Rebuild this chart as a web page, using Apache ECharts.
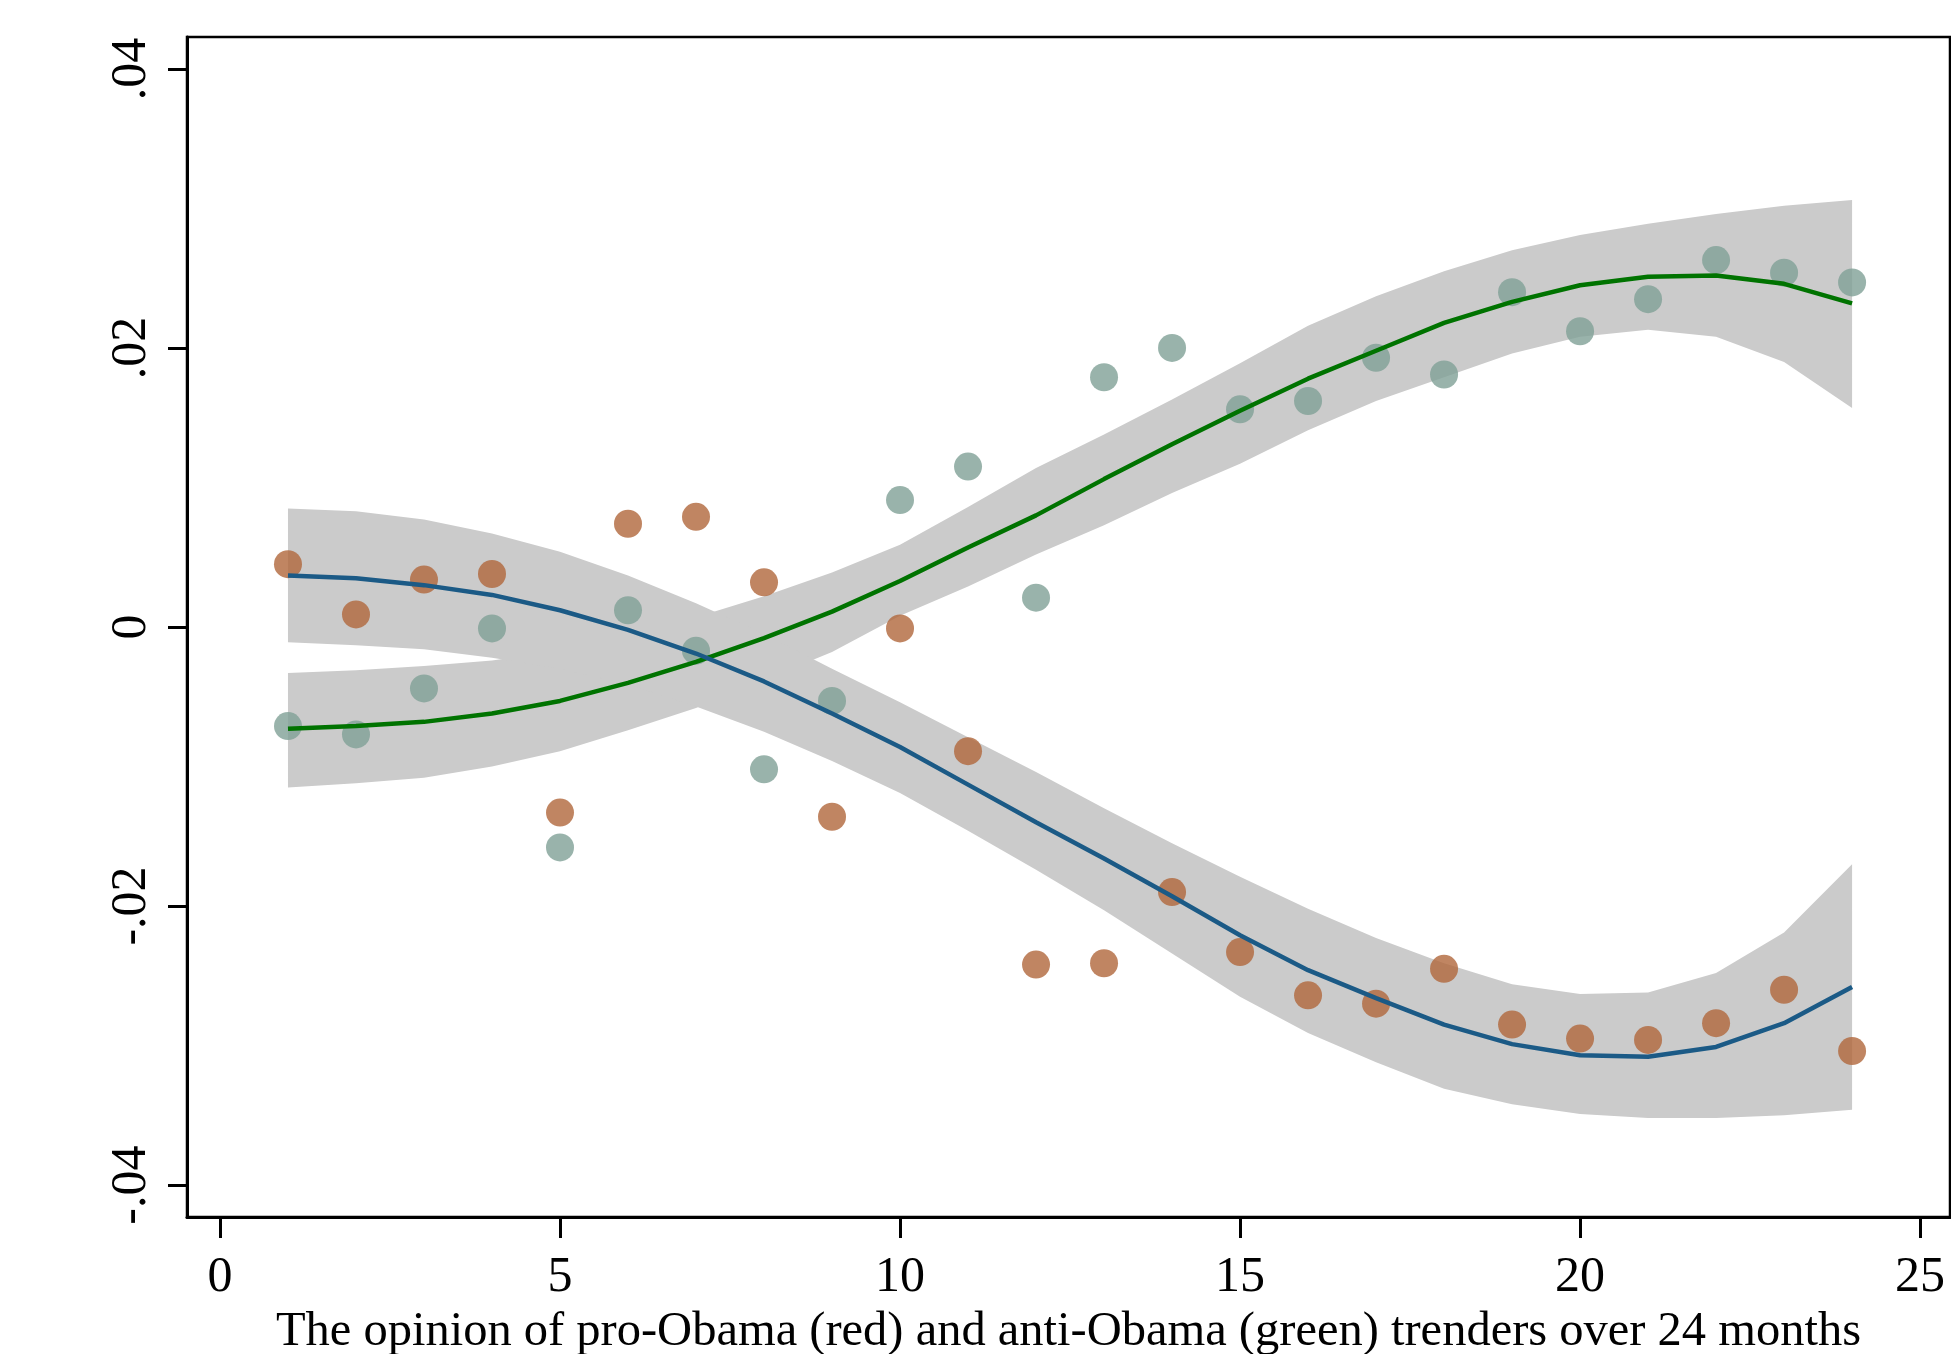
<!DOCTYPE html>
<html>
<head>
<meta charset="utf-8">
<script src="https://cdn.jsdelivr.net/npm/echarts@6/dist/echarts.min.js"></script>
<style>
html,body{margin:0;padding:0;background:#fff;}
#chart{width:1951px;height:1354px;}
</style>
</head>
<body>
<div id="chart"></div>
<script>
// Months 1..24
const months = [1,2,3,4,5,6,7,8,9,10,11,12,13,14,15,16,17,18,19,20,21,22,23,24];

// Pro-Obama trenders (red/orange points)
const proPoints = [0.0045, 0.0009, 0.0034, 0.0038, -0.0133, 0.0074, 0.0079, 0.0032, -0.0136, -0.0001, -0.0089, -0.0242,
                   -0.0241, -0.0190, -0.0233, -0.0264, -0.0270, -0.0245, -0.0285, -0.0295, -0.0296, -0.0284, -0.0260, -0.0304];
// Anti-Obama trenders (green points)
const antiPoints = [-0.0071, -0.0077, -0.0044, -0.0001, -0.0158, 0.0012, -0.0017, -0.0102, -0.0053, 0.0091, 0.0115, 0.0021,
                    0.0179, 0.0200, 0.0156, 0.0162, 0.0193, 0.0181, 0.0240, 0.0212, 0.0235, 0.0263, 0.0254, 0.0247];

// Fitted line and confidence band for pro-Obama
const proFit = [0.0037, 0.0035, 0.0030, 0.0023, 0.0012, -0.0002, -0.0019, -0.0039, -0.0062, -0.0086, -0.0113, -0.0140,
                -0.0166, -0.0193, -0.0221, -0.0246, -0.0266, -0.0285, -0.0299, -0.0307, -0.0308, -0.0301, -0.0284, -0.0258];
const proUpper = [0.0085, 0.0083, 0.0077, 0.0067, 0.0054, 0.0037, 0.0017, -0.0005, -0.0030, -0.0054, -0.0079, -0.0104,
                  -0.0130, -0.0155, -0.0179, -0.0202, -0.0223, -0.0241, -0.0256, -0.0263, -0.0262, -0.0248, -0.0219, -0.0170];
const proLower = [-0.0011, -0.0013, -0.0016, -0.0022, -0.0030, -0.0041, -0.0057, -0.0075, -0.0096, -0.0119, -0.0146, -0.0174,
                  -0.0203, -0.0234, -0.0265, -0.0291, -0.0312, -0.0331, -0.0342, -0.0349, -0.0352, -0.0352, -0.0350, -0.0346];

// Fitted line and confidence band for anti-Obama
const antiFit = [-0.0073, -0.0071, -0.0068, -0.0062, -0.0053, -0.0040, -0.0025, -0.0008, 0.0011, 0.0033, 0.0057, 0.0080,
                 0.0106, 0.0131, 0.0155, 0.0178, 0.0198, 0.0218, 0.0233, 0.0245, 0.0251, 0.0252, 0.0246, 0.0232];
const antiUpper = [-0.0033, -0.0031, -0.0028, -0.0024, -0.0017, -0.0007, 0.0007, 0.0022, 0.0039, 0.0059, 0.0086, 0.0114,
                   0.0138, 0.0163, 0.0189, 0.0216, 0.0237, 0.0255, 0.0270, 0.0281, 0.0289, 0.0296, 0.0302, 0.0306];
const antiLower = [-0.0115, -0.0112, -0.0108, -0.0100, -0.0089, -0.0074, -0.0058, -0.0038, -0.0018, 0.0008, 0.0029, 0.0052,
                   0.0073, 0.0096, 0.0117, 0.0141, 0.0162, 0.0179, 0.0196, 0.0208, 0.0213, 0.0208, 0.0190, 0.0157];

// Axis ticks and labels
const xTicks = [0, 5, 10, 15, 20, 25];
const yTicks = [-0.04, -0.02, 0, 0.02, 0.04];
const yTickLabels = ['-.04', '-.02', '0', '.02', '.04'];
const xTitle = 'The opinion of pro-Obama (red) and anti-Obama (green) trenders over 24 months';

const FONT = '"Liberation Serif", "Times New Roman", serif';

function pairs(xs, ys) { return xs.map((x, i) => [x, ys[i]]); }

function band(upper, lower) {
  return {
    type: 'custom',
    silent: true,
    clip: true,
    data: [[months[0], upper[0]]],
    renderItem: function (params, api) {
      const pts = [];
      for (let i = 0; i < months.length; i++) pts.push(api.coord([months[i], upper[i]]));
      for (let i = months.length - 1; i >= 0; i--) pts.push(api.coord([months[i], lower[i]]));
      return { type: 'polygon', shape: { points: pts }, style: { fill: '#cbcbcb', stroke: null } };
    }
  };
}

const chart = echarts.init(document.getElementById('chart'), null, { renderer: 'canvas' });
chart.setOption({
  animation: false,
  backgroundColor: '#ffffff',
  grid: { left: 187, right: 1, top: 37, bottom: 137, show: true, borderColor: '#000', borderWidth: 2.5,
          backgroundColor: 'transparent', containLabel: false, outerBoundsMode: 'none' },
  xAxis: {
    type: 'value',
    min: -0.485, max: 25.44,
    name: xTitle,
    nameLocation: 'middle',
    nameGap: 90,
    nameTextStyle: { fontFamily: FONT, fontSize: 48.5, color: '#000' },
    axisLine: { show: true, onZero: false, lineStyle: { color: '#000', width: 3 } },
    axisTick: { show: true, length: 21, lineStyle: { color: '#000', width: 3 }, customValues: xTicks },
    axisLabel: { fontFamily: FONT, fontSize: 50, color: '#000', margin: 36, customValues: xTicks, formatter: v => String(v) },
    splitLine: { show: false }
  },
  yAxis: {
    type: 'value',
    min: -0.04229, max: 0.04229,
    axisLine: { show: true, onZero: false, lineStyle: { color: '#000', width: 3 } },
    axisTick: { show: true, length: 19, lineStyle: { color: '#000', width: 3 }, customValues: yTicks },
    axisLabel: {
      fontFamily: FONT, fontSize: 50, color: '#000', margin: 30, rotate: 90,
      customValues: yTicks,
      formatter: function (v) {
        for (let i = 0; i < yTicks.length; i++) if (Math.abs(v - yTicks[i]) < 1e-9) return yTickLabels[i];
        return '';
      }
    },
    splitLine: { show: false }
  },
  series: [
    band(antiUpper, antiLower),
    { type: 'line', data: pairs(months, antiFit), showSymbol: false, silent: true,
      lineStyle: { color: '#007300', width: 4.5 } },
    band(proUpper, proLower),
    { type: 'line', data: pairs(months, proFit), showSymbol: false, silent: true,
      lineStyle: { color: '#1b5a86', width: 4.5 } },
    { type: 'scatter', data: pairs(months, antiPoints), symbolSize: 28, silent: true,
      itemStyle: { color: '#80a096' } },
    { type: 'scatter', data: pairs(months, proPoints), symbolSize: 28, silent: true,
      itemStyle: { color: '#b0673b' } }
  ]
});
</script>
</body>
</html>
